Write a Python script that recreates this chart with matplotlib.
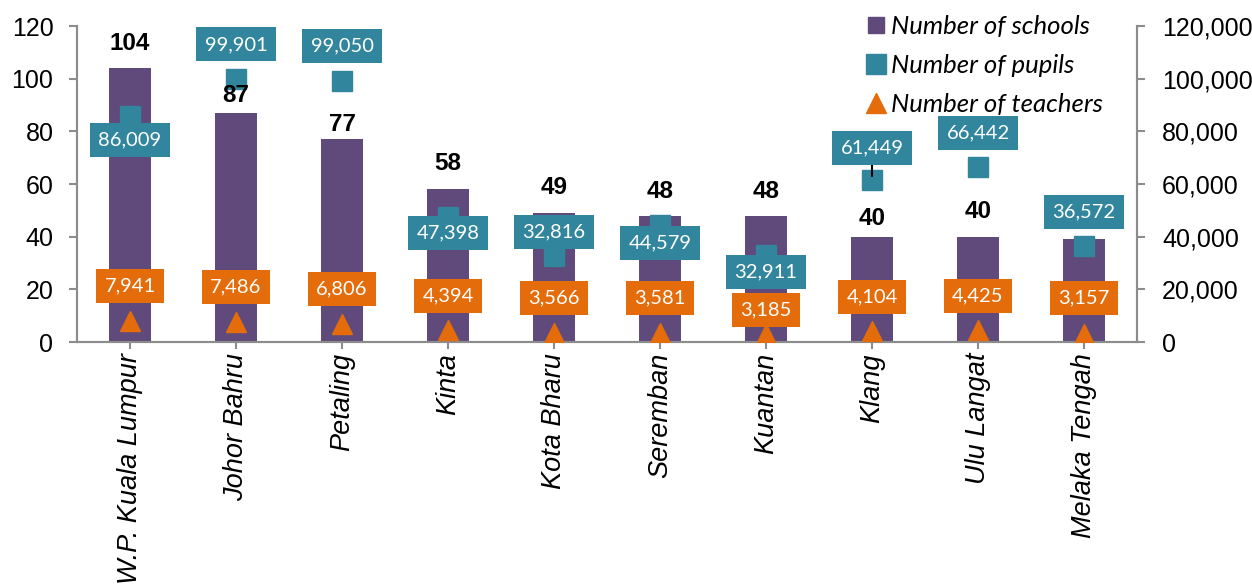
import matplotlib
matplotlib.use("Agg")
import matplotlib.pyplot as plt
from matplotlib.ticker import FuncFormatter, MultipleLocator
from matplotlib.lines import Line2D

districts = ["W.P. Kuala Lumpur", "Johor Bahru", "Petaling", "Kinta", "Kota Bharu",
             "Seremban", "Kuantan", "Klang", "Ulu Langat", "Melaka Tengah"]
schools = [104, 87, 77, 58, 49, 48, 48, 40, 40, 39]
pupils = [86009, 99901, 99050, 47398, 32816, 44579, 32911, 61449, 66442, 36572]
teachers = [7941, 7486, 6806, 4394, 3566, 3581, 3185, 4104, 4425, 3157]

# label offsets (pixels; positive = up)
school_off = [25, 17, 15, 26, 25, 24.5, 24.5, 18.5, 25, None]
pupil_off = [-24.5, 34.5, 35, -16, 24, -18.7, -16.5, 32, 34, 34]
teacher_off = [35, 35, 35, 34.7, 35, 35, 23.6, 34.5, 34.6, 35.4]

C_BAR = "#604A7B"
C_PUP = "#31859C"
C_TEA = "#E46C0A"
SPINE = "#8C8C8C"

DPI = 100
W, H = 1252, 584
fig = plt.figure(figsize=(W / DPI, H / DPI), dpi=DPI)
ax = fig.add_axes([77 / W, 1 - 342 / H, (1137 - 77) / W, (342 - 26) / H])
ax2 = ax.twinx()

x = list(range(len(districts)))
px2pt = 72 / DPI

ax.bar(x, schools, width=0.4, color=C_BAR, zorder=2)
ax.set_xlim(-0.5, len(districts) - 0.5)
ax.set_ylim(0, 120)
ax.yaxis.set_major_locator(MultipleLocator(20))

ax2.set_ylim(0, 120000)
ax2.yaxis.set_major_locator(MultipleLocator(20000))
ax2.yaxis.set_major_formatter(FuncFormatter(lambda v, p: f"{int(v):,}"))
ax2.plot(x, pupils, linestyle="none", marker="s", markersize=14.5, color=C_PUP, zorder=3)
ax2.plot(x, teachers, linestyle="none", marker="^", markersize=15, color=C_TEA, zorder=3)

for a in (ax, ax2):
    for s in a.spines.values():
        s.set_color(SPINE)
        s.set_linewidth(1.5)
    a.spines["top"].set_visible(False)
ax.tick_params(axis="y", direction="out", length=6, width=1.5, color=SPINE, pad=11, labelsize=18)
ax2.tick_params(axis="y", direction="out", length=6, width=1.5, color=SPINE, pad=12, labelsize=18)
ax.tick_params(axis="x", direction="out", length=5, width=1.5, color=SPINE, pad=3)
ax.set_xticks(x)
ax.set_xticklabels(districts, rotation=90, fontsize=19.5, fontstyle="italic",
                   family="Liberation Sans")
for lab in ax.get_yticklabels() + ax2.get_yticklabels():
    lab.set_family("Liberation Sans")

# school labels (drawn on the top axes so they sit above the markers)
for i, (v, off) in enumerate(zip(schools, school_off)):
    if off is None:
        continue
    ax2.annotate(f"{v}", (i, v), xycoords=ax.transData, xytext=(0, off * px2pt),
                 textcoords="offset points", ha="center", va="center", fontsize=17.5,
                 fontweight="bold", family="Liberation Sans", zorder=5)

box_font = "Lato"
for i, (v, off) in enumerate(zip(pupils, pupil_off)):
    kw = {}
    if districts[i] == "Klang":
        kw["arrowprops"] = dict(arrowstyle="-", color="black", lw=1.5, shrinkA=0, shrinkB=3)
    ax2.annotate(f"{v:,}", (i, v), xytext=(0, off * px2pt), textcoords="offset points",
                 ha="center", va="center", fontsize=14.5, color="white", family=box_font,
                 bbox=dict(boxstyle="square,pad=0.42", fc=C_PUP, ec="none"), zorder=6, **kw)
for i, (v, off) in enumerate(zip(teachers, teacher_off)):
    ax2.annotate(f"{v:,}", (i, v), xytext=(0, off * px2pt), textcoords="offset points",
                 ha="center", va="center", fontsize=14.5, color="white", family=box_font,
                 bbox=dict(boxstyle="square,pad=0.42", fc=C_TEA, ec="none"), zorder=7)

handles = [
    Line2D([], [], linestyle="none", marker="s", markersize=11, color=C_BAR),
    Line2D([], [], linestyle="none", marker="s", markersize=14, color=C_PUP),
    Line2D([], [], linestyle="none", marker="^", markersize=15, color=C_TEA),
]
labels = ["Number of schools", "Number of pupils", "Number of teachers"]
fig.legend(handles, labels, loc="upper left", bbox_to_anchor=(864 / W, 1 - 15 / H),
           frameon=False, handlelength=0.9, handletextpad=0.15, labelspacing=0.62,
           borderpad=0, borderaxespad=0,
           prop=dict(family="Lato", style="italic", size=18.5))

fig.savefig("out.png", dpi=DPI)
